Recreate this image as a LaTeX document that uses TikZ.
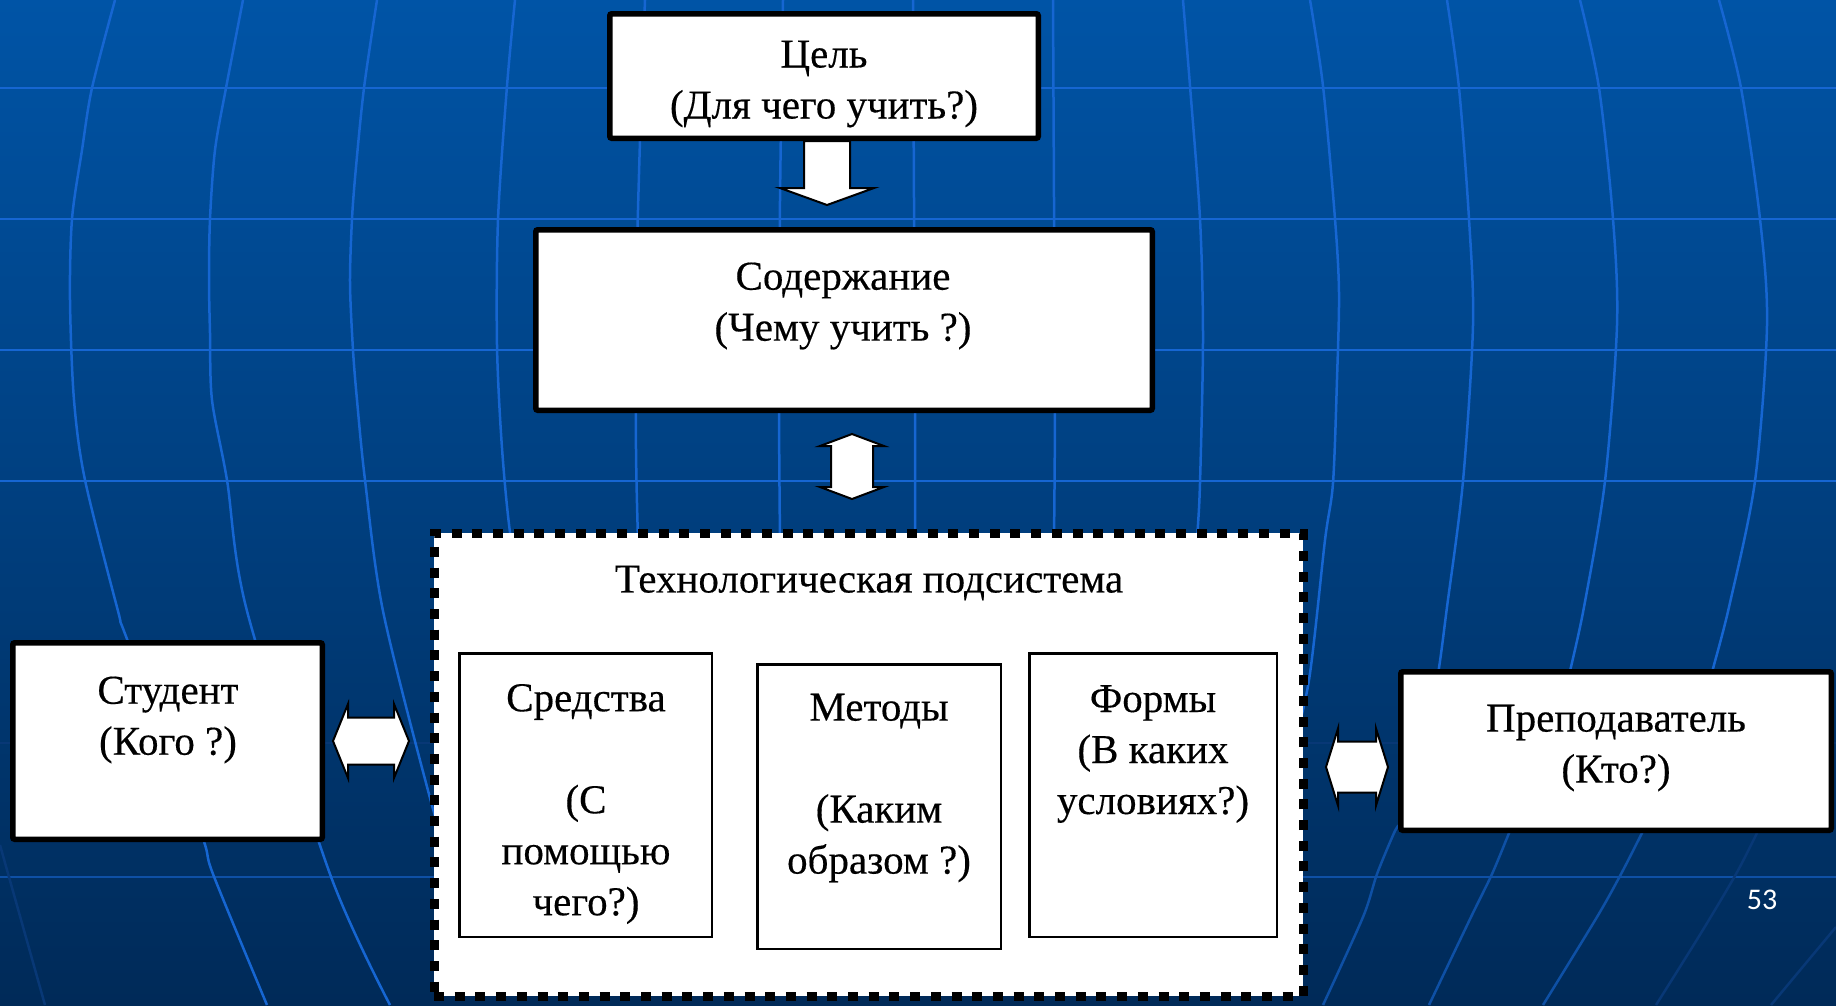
\documentclass[tikz,border=0pt]{standalone}
\usepackage{fontspec}
\setmainfont{Liberation Serif}
\newfontfamily\boxfont[FakeBold=0.35]{Liberation Serif}
\newfontfamily\numfont{Carlito}
\usetikzlibrary{calc}
\definecolor{bgtop}{RGB}{0,84,166}
\definecolor{bgbot}{RGB}{0,42,88}
\definecolor{gridc}{RGB}{22,102,210}
\definecolor{gridd}{RGB}{14,80,165}
\definecolor{gride}{RGB}{8,56,118}
\begin{document}
\begin{tikzpicture}[x=1pt,y=-1pt,
  bigbox/.style={draw=black, line width=5.5pt, fill=white, rounded corners=2pt, inner sep=0pt},
  smallbox/.style={draw=black, line width=2.5pt, fill=white, inner sep=0pt},
  techbox/.style={draw=black, line width=9pt, fill=white, dash pattern=on 10pt off 10.7pt, inner sep=0pt},
  txt/.style={font=\boxfont\fontsize{41}{51}\selectfont, align=center, inner sep=0pt, text=black},
  blk/.style={draw=black, line width=2pt, fill=white, line join=miter},
  gridline/.style={draw=gridc, line width=2.5pt},
  gridlow/.style={draw=gridd, line width=2.5pt},
  griddark/.style={draw=gride, line width=2.5pt}]
\useasboundingbox (0,0) rectangle (1836,1005);
\shade[top color=bgtop,bottom color=bgbot] (0,0) rectangle (1836,1005);

% horizontal grid lines
\foreach \yy in {88,219,350,481}{\draw[gridline] (0,\yy) -- (1836,\yy);}
\draw[griddark] (0,743) -- (1836,743);
\draw[gridlow] (0,877) -- (1836,877);

% meridians
\draw[gridline] plot[smooth] coordinates {(115,0) (92,88) (82,150) (72,219) (70,300) (74,400) (85,480) (118,611) (127,639) (200,830) (213,874) (267,1005)};
\draw[gridline] plot[smooth] coordinates {(243,0) (226,88) (215,150) (210,219) (209,280) (210,333) (212,400) (227,480) (247,611) (330,874) (390,1005)};
\draw[gridline] plot[smooth] coordinates {(377,0) (364,88) (356,167) (352,219) (350,283) (353,350) (357,400) (365,480) (383,611) (430,798) (460,900)};
\draw[gridline] plot[smooth] coordinates {(515,0) (507,86) (498,220) (497,345) (502,448) (511,540) (530,650)};
\draw[gridline] plot[smooth] coordinates {(645,0) (640,140) (636,300) (636,450) (638,540)};
\draw[gridline] plot[smooth] coordinates {(783,0) (780,200) (779,400) (780,540)};
\draw[gridline] plot[smooth] coordinates {(913,0) (914,200) (915,400) (915,540)};
\draw[gridline] plot[smooth] coordinates {(1053,0) (1054,200) (1055,400) (1054,540)};
\draw[gridline] plot[smooth] coordinates {(1183,0) (1190,86) (1200,219) (1203,338) (1200,483) (1197,540) (1190,650)};
\draw[gridline] plot[smooth] coordinates {(1310,0) (1323,86) (1335,219) (1339,293) (1337,379) (1333,483) (1325,540) (1309,680) (1290,760)};
\draw[gridline] plot[smooth] coordinates {(1447,0) (1459,88) (1469,219) (1473,325) (1463,481) (1447,607) (1437,680) (1420,760)};
\draw[gridline] plot[smooth] coordinates {(1580,0) (1599,88) (1613,219) (1617,325) (1605,481) (1584,607) (1568,680) (1550,760)};
\draw[gridline] plot[smooth] coordinates {(1719,0) (1741,88) (1760,219) (1767,325) (1755,481) (1729,607) (1710,680) (1690,760)};
% lower slanted lines
\draw[gridlow] plot[smooth] coordinates {(1399,825) (1394,833) (1377,874) (1363,917) (1323,1005)};
\draw[gridlow] plot[smooth] coordinates {(1512,825) (1509,833) (1492,874) (1471,917) (1429,1005)};
\draw[gridlow] plot[smooth] coordinates {(1646,825) (1642,833) (1621,874) (1597,917) (1543,1005)};
\draw[griddark] plot[smooth] coordinates {(1761,825) (1757,833) (1736,874) (1701,933) (1656,1005)};
\draw[griddark] (1836,927) -- (1771,1005);
\draw[griddark] (0,845) -- (45,1005);

% boxes
\node[bigbox, minimum width=428.5pt, minimum height=124.5pt] (goal) at (824,76) {};
\node[bigbox, minimum width=616.5pt, minimum height=180.5pt] (content) at (844,320) {};
\node[techbox, minimum width=869pt, minimum height=463pt] (tech) at (868.5,764.5) {};
\node[smallbox, minimum width=252.5pt, minimum height=283.5pt] (sred) at (585.5,795) {};
\node[smallbox, minimum width=243.5pt, minimum height=284.5pt] (meth) at (879,806.5) {};
\node[smallbox, minimum width=247.5pt, minimum height=283.5pt] (form) at (1153,795) {};
\node[bigbox, minimum width=309.5pt, minimum height=196.5pt] (stud) at (167.5,741) {};
\node[bigbox, minimum width=430.5pt, minimum height=158.5pt] (teach) at (1616,751) {};

% texts
\node[txt] (tgoal) at (824,84) {Цель\\(Для чего учить?)};
\node[txt] (tcontent) at (843,306) {Содержание\\(Чему учить ?)};
\node[txt] (ttitle) at (869,583) {Технологическая подсистема};
\node[txt] (tsred) at (586,804) {Средства\\[51pt](С\\помощью\\чего?)};
\node[txt] (tmeth) at (879,788) {Методы\\[51pt](Каким\\образом ?)};
\node[txt] (tform) at (1153,754) {Формы\\(В каких\\условиях?)};
\node[txt] (tstud) at (168,720) {Студент\\(Кого ?)};
\node[txt] (tteach) at (1616,748) {Преподаватель\\(Кто?)};
\node[font=\numfont\fontsize{30}{36}\selectfont, text=white, inner sep=0pt] (pg) at (1762,900) {53};

% block arrows (connectors)
\coordinate (a1s) at ($(goal.south)+(3,0)$);
\coordinate (a1e) at ($(content.north)+(-17,-22)$);
\draw[blk] ($(a1s)+(-23,0)$) -- ($(a1s)+(23,0)$) -- ($(a1e)+(23,-17)$) -- ($(a1e)+(47,-17)$) -- (a1e) -- ($(a1e)+(-47,-17)$) -- ($(a1e)+(-23,-17)$) -- cycle;

\coordinate (a2t) at ($(content.south)+(8,21)$);
\coordinate (a2b) at ($(tech.north)+(-16.5,-29.5)$);
\draw[blk] (a2t) -- ($(a2t)+(32,12)$) -- ($(a2t)+(21,12)$) -- ($(a2b)+(21,-12)$) -- ($(a2b)+(32,-12)$) -- (a2b) -- ($(a2b)+(-32,-12)$) -- ($(a2b)+(-21,-12)$) -- ($(a2t)+(-21,12)$) -- ($(a2t)+(-32,12)$) -- cycle;

\coordinate (a3l) at ($(stud.east)+(8,0)$);
\coordinate (a3r) at ($(tech.west)+(-20.5,-23.5)$);
\draw[blk] (a3l) -- ($(a3l)+(15,-37)$) -- ($(a3l)+(15,-23.5)$) -- ($(a3r)+(-15,-23.5)$) -- ($(a3r)+(-15,-37)$) -- (a3r) -- ($(a3r)+(-15,37)$) -- ($(a3r)+(-15,23.5)$) -- ($(a3l)+(15,23.5)$) -- ($(a3l)+(15,37)$) -- cycle;

\coordinate (a4l) at ($(tech.east)+(18.5,2.5)$);
\coordinate (a4r) at ($(teach.west)+(-10,16)$);
\draw[blk] (a4l) -- ($(a4l)+(12,-38.5)$) -- ($(a4l)+(12,-25.5)$) -- ($(a4r)+(-12,-25.5)$) -- ($(a4r)+(-12,-38.5)$) -- (a4r) -- ($(a4r)+(-12,38.5)$) -- ($(a4r)+(-12,25.5)$) -- ($(a4l)+(12,25.5)$) -- ($(a4l)+(12,38.5)$) -- cycle;
\end{tikzpicture}
\end{document}
